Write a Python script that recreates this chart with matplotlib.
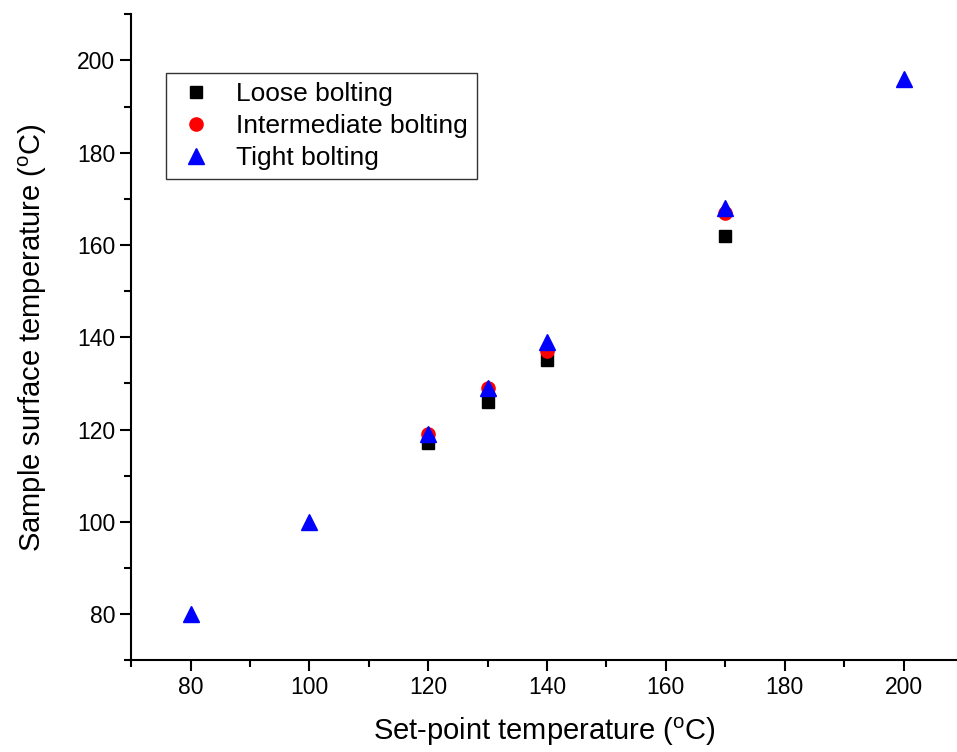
import matplotlib.pyplot as plt

plt.rcParams["font.family"] = ["Liberation Sans", "DejaVu Sans"]

# set-point temperatures and measured sample surface temperatures
loosePoints = [120, 130, 140, 170]
loose = [117, 126, 135, 162]
intermediatePoints = [120, 130, 140, 170]
intermediate = [119, 129, 137, 167]
tightPoints = [80, 100, 120, 130, 140, 170, 200]
tight = [80, 100, 119, 129, 139, 168, 196]

fig = plt.figure(figsize=(9.57, 7.52), dpi=100)
ax = fig.add_axes([0.137, 0.122, 0.863, 0.859])

ax.plot(loosePoints, loose, "s", color="black", markersize=9, label="Loose bolting")
ax.plot(intermediatePoints, intermediate, "o", color="#ff0000", markersize=9.5, label="Intermediate bolting")
ax.plot(tightPoints, tight, "^", color="#0000ff", markersize=11.5, label="Tight bolting")

ax.set_xlim(70, 209)
ax.set_ylim(70, 210)
ax.set_xticks([80, 100, 120, 140, 160, 180, 200])
ax.set_yticks([80, 100, 120, 140, 160, 180, 200])
ax.set_xticks(range(70, 210, 10), minor=True)
ax.set_yticks(range(70, 211, 10), minor=True)

for side in ["top", "right"]:
    ax.spines[side].set_visible(False)
for side in ["left", "bottom"]:
    ax.spines[side].set_linewidth(1.5)

ax.tick_params(which="major", direction="out", length=8, width=1.5, labelsize=16.5)
ax.tick_params(which="minor", direction="out", length=5, width=1.5)

ax.set_xlabel("Set-point temperature ($^{\\mathregular{o}}$C)", fontsize=21, labelpad=12)
ax.set_ylabel("Sample surface temperature ($^{\\mathregular{o}}$C)", fontsize=21, labelpad=20)

leg = ax.legend(loc="upper left", bbox_to_anchor=(0.042, 0.909), borderaxespad=0, fontsize=19,
                frameon=True, fancybox=False, edgecolor="black",
                handletextpad=0.7, borderpad=0.35, labelspacing=0.3, handlelength=1.6)
leg.get_frame().set_linewidth(1.0)

fig.savefig("out.png", dpi=100)
